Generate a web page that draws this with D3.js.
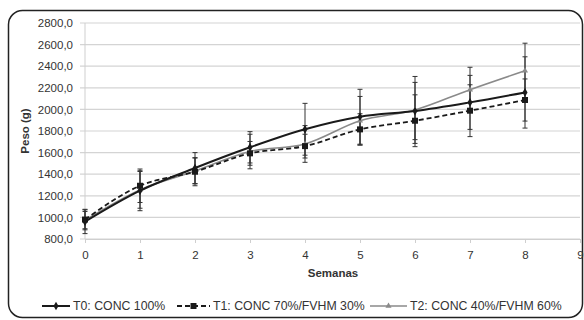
<!DOCTYPE html>
<html><head><meta charset="utf-8">
<script src="https://cdn.jsdelivr.net/npm/d3@7"></script>
<style>body{margin:0;background:#fff}svg{display:block}text{font-family:"Liberation Sans",Arial,sans-serif}</style>
</head><body><svg id="c" width="584" height="320"></svg>
<script>
const weeks = [0,1,2,3,4,5,6,7,8];
const xTicks = [0,1,2,3,4,5,6,7,8,9];
const yTicks = [800,1000,1200,1400,1600,1800,2000,2200,2400,2600,2800];
const seriesNames = ["T0: CONC 100%","T1: CONC 70%/FVHM 30%","T2: CONC 40%/FVHM 60%"];
const t0 = [960,1247,1457,1649,1816,1932,1985,2065,2157];
const t1 = [980,1293,1423,1593,1660,1815,1895,1988,2087];
const t2 = [975,1255,1430,1610,1680,1895,1995,2183,2358];
const e0 = [110,185,143,145,240,254,265,250,330];
const e1 = [95,155,130,110,110,145,240,240,195];
const e2 = [80,170,120,160,170,225,310,207,255];

const svg = d3.select("#c");
svg.append("rect").attr("x",8.5).attr("y",10.5).attr("width",574).attr("height",307).attr("rx",14)
  .attr("fill","#fff").attr("stroke","#222").attr("stroke-width",1.5);

const x = d3.scaleLinear().domain([0,9]).range([85,580]);
const y = d3.scaleLinear().domain([800,2800]).range([239,23]);

svg.append("g").selectAll("line").data(yTicks).join("line")
  .attr("x1",80).attr("x2",580).attr("y1",d=>y(d)).attr("y2",d=>y(d))
  .attr("stroke","#d4d4d4").attr("stroke-width",1.2);
svg.append("line").attr("x1",85).attr("x2",85).attr("y1",23).attr("y2",239).attr("stroke","#cfcfcf");

const fmt = d => d3.format(".1f")(d).replace(".",",");
const yAx = svg.append("g").attr("transform","translate(80,0)")
  .call(d3.axisLeft(y).tickValues(yTicks).tickFormat(fmt).tickSize(0).tickPadding(7));
yAx.select(".domain").remove();
yAx.selectAll("text").attr("font-size",11.5).attr("fill","#333").attr("font-family","Liberation Sans, Arial, sans-serif");

const xAx = svg.append("g").attr("transform","translate(0,239)")
  .call(d3.axisBottom(x).tickValues(xTicks).tickFormat(d3.format("d")).tickSize(4).tickPadding(8));
xAx.select(".domain").attr("stroke","#cfcfcf");
xAx.selectAll(".tick line").attr("stroke","#cfcfcf");
xAx.selectAll("text").attr("font-size",11.5).attr("fill","#333").attr("font-family","Liberation Sans, Arial, sans-serif");

svg.append("text").attr("x",333).attr("y",277).attr("text-anchor","middle")
  .attr("font-size",11.5).attr("font-weight","bold").attr("fill","#333").text("Semanas");
svg.append("text").attr("transform","translate(29,131) rotate(-90)").attr("text-anchor","middle")
  .attr("font-size",11.5).attr("font-weight","bold").attr("fill","#333").text("Peso (g)");

const data = [
  {name:seriesNames[0], v:t0, e:e0, color:"#1a1a1a", width:2, dash:null, marker:"diamond"},
  {name:seriesNames[1], v:t1, e:e1, color:"#1a1a1a", width:1.8, dash:"5,3", marker:"square"},
  {name:seriesNames[2], v:t2, e:e2, color:"#8a8a8a", width:1.6, dash:null, marker:"triangle"}
];

data.forEach(s=>{
  const g = svg.append("g").attr("stroke","#333").attr("stroke-width",1);
  weeks.forEach((w,i)=>{
    const cx = x(w), hi = y(s.v[i]+s.e[i]), lo = y(s.v[i]-s.e[i]);
    g.append("line").attr("x1",cx).attr("x2",cx).attr("y1",hi).attr("y2",lo);
    g.append("line").attr("x1",cx-2.5).attr("x2",cx+2.5).attr("y1",hi).attr("y2",hi);
    g.append("line").attr("x1",cx-2.5).attr("x2",cx+2.5).attr("y1",lo).attr("y2",lo);
  });
});

const line = d3.line().x((d,i)=>x(weeks[i])).y(d=>y(d)).curve(d3.curveMonotoneX);
const sym = {diamond:d3.symbol().type(d3.symbolDiamond).size(22),
  square:d3.symbol().type(d3.symbolSquare).size(36),
  triangle:d3.symbol().type(d3.symbolTriangle).size(16)};

data.slice().reverse().forEach(s=>{
  svg.append("path").datum(s.v).attr("d",line).attr("fill","none")
    .attr("stroke",s.color).attr("stroke-width",s.width).attr("stroke-dasharray",s.dash);
  svg.append("g").selectAll("path").data(s.v).join("path")
    .attr("transform",(d,i)=>`translate(${x(weeks[i])},${y(d)})`)
    .attr("d",sym[s.marker]).attr("fill",s.color);
});

const legX = [42,177,370], legW=[28,33,37];
data.forEach((s,i)=>{
  const g = svg.append("g");
  const ly = 306;
  g.append("line").attr("x1",legX[i]).attr("x2",legX[i]+legW[i]).attr("y1",ly).attr("y2",ly)
    .attr("stroke",s.color).attr("stroke-width",s.width).attr("stroke-dasharray",s.dash);
  g.append("path").attr("transform",`translate(${legX[i]+legW[i]/2},${ly})`).attr("d",sym[s.marker]).attr("fill",s.color);
  g.append("text").attr("x",legX[i]+legW[i]+3).attr("y",ly+4).attr("font-size",12.3).attr("fill","#333").text(s.name);
});
</script></body></html>
